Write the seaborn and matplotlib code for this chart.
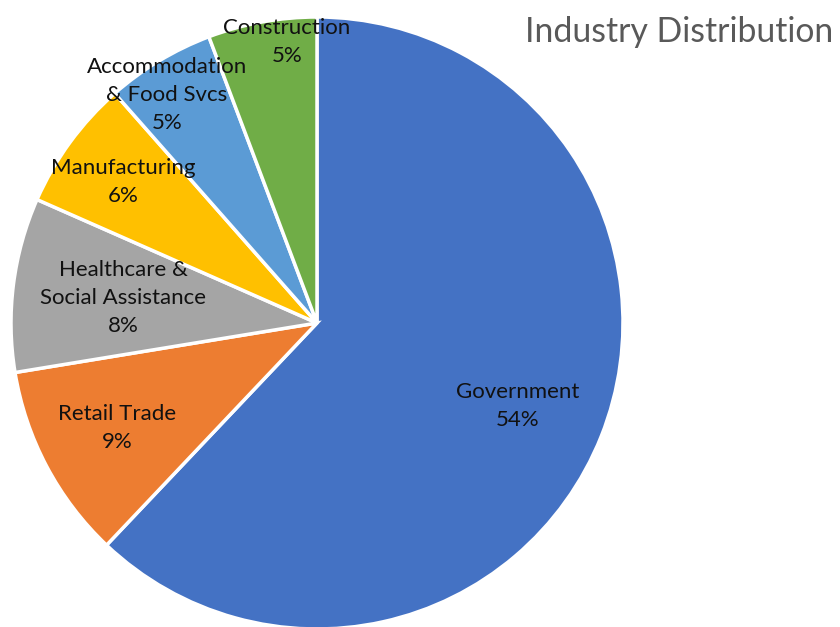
import numpy as np
import matplotlib
matplotlib.use("Agg")
import matplotlib.pyplot as plt
import seaborn as sns

sns.set_theme(style="white")
plt.rcParams["font.family"] = ["Lato", "DejaVu Sans"]

# Industry shares (percent of total workforce)
industries = ["Government", "Retail Trade", "Healthcare &\nSocial Assistance",
              "Manufacturing", "Accommodation\n& Food Svcs", "Construction"]
shares = [54, 9, 8, 6, 5, 5]
colors = ["#4472C4", "#ED7D31", "#A5A5A5", "#FFC000", "#5B9BD5", "#70AD47"]

# label placement inside each wedge: radius and small angular nudge (degrees)
label_radius = [0.71, 0.738, 0.639, 0.784, 0.892, 0.923]
label_nudge = [-0.6, -0.3, -0.2, 0.1, 2.3, -4.2]

fig = plt.figure(figsize=(8.4, 6.27), dpi=100)
ax = fig.add_axes([11 / 840, -2 / 627, 612 / 840, 612 / 627])

wedges, _ = ax.pie(shares, colors=colors, startangle=90, counterclock=False,
                   radius=1.0, wedgeprops=dict(edgecolor="white", linewidth=2.5))

for w, name, pct, r, nd in zip(wedges, industries, shares, label_radius, label_nudge):
    mid = np.deg2rad((w.theta1 + w.theta2) / 2 + nd)
    ax.text(r * np.cos(mid), r * np.sin(mid), f"{name}\n{pct}%",
            ha="center", va="center", fontsize=16, color="#111111",
            linespacing=1.5)

ax.set_xlim(-1, 1)
ax.set_ylim(-1, 1)
ax.set_aspect("equal")
ax.axis("off")

fig.text(833 / 840, 1 - 32 / 627, "Industry Distribution", ha="right", va="center",
         fontsize=24.3, color="#595959")

fig.savefig("out.png", dpi=100)
